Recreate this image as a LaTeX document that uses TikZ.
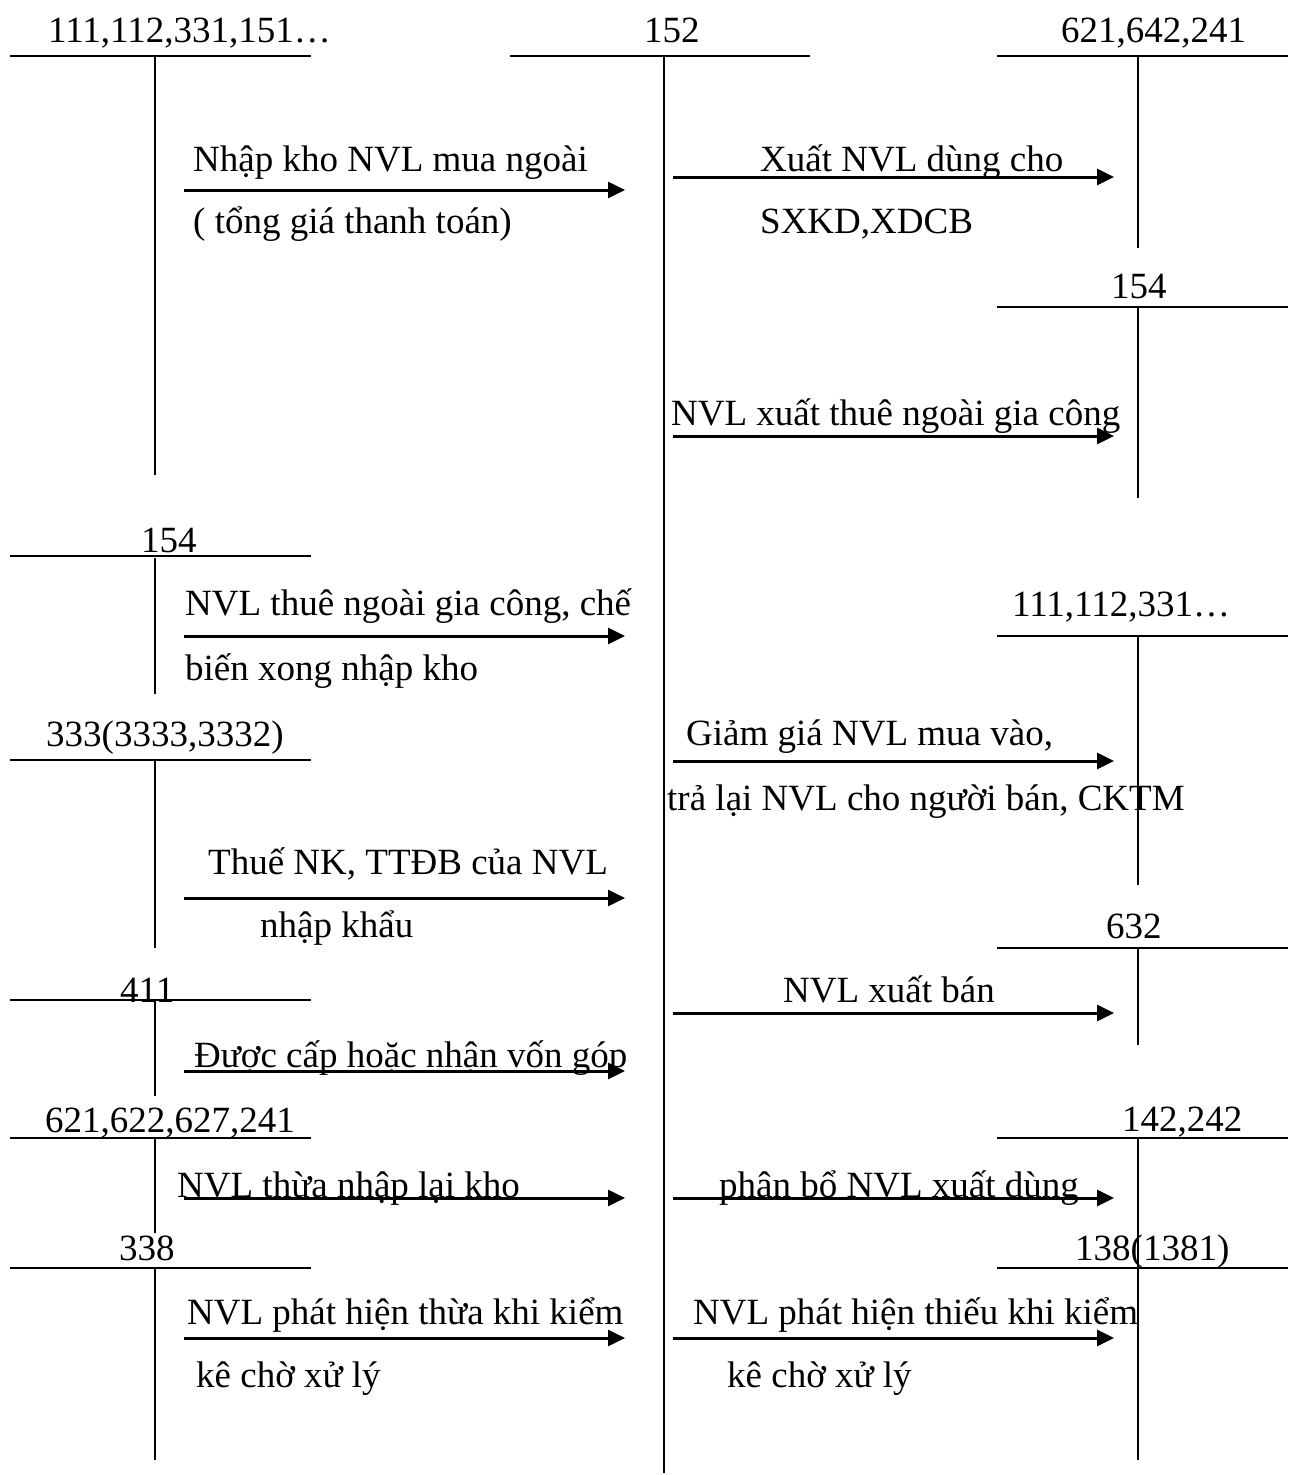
\documentclass[tikz,border=0pt]{standalone}
\usepackage{fontspec}
\setmainfont{Liberation Serif}
\usetikzlibrary{arrows.meta}
\newcommand\tnrsize{\fontsize{37}{44}\selectfont}
\tikzset{
  acct/.style={line width=2pt},
  flow/.style={line width=3pt,-{Triangle[length=17pt,width=16pt]}},
  lbl/.style={anchor=base west,inner sep=0pt,font=\tnrsize},
}
\begin{document}
\begin{tikzpicture}[x=1pt,y=-1pt]
\fill[white] (0,0) rectangle (1288,1475);
\useasboundingbox (0,0) rectangle (1288,1475);

% ---------- left accounts ----------
\coordinate (A1l) at (10,56);   \coordinate (A1r) at (311,56);
\coordinate (A1t) at (155,56);  \coordinate (A1b) at (155,475);
\node[lbl] (A1n) at (48,42) {111,112,331,151…};
\draw[acct] (A1l) -- (A1r); \draw[acct] (A1t) -- (A1b);

\coordinate (A2l) at (10,556);  \coordinate (A2r) at (311,556);
\coordinate (A2t) at (155,558); \coordinate (A2b) at (155,694);
\node[lbl] (A2n) at (141,552) {154};
\draw[acct] (A2l) -- (A2r); \draw[acct] (A2t) -- (A2b);

\coordinate (A3l) at (10,760);  \coordinate (A3r) at (311,760);
\coordinate (A3t) at (155,760); \coordinate (A3b) at (155,948);
\node[lbl] (A3n) at (46,746) {333(3333,3332)};
\draw[acct] (A3l) -- (A3r); \draw[acct] (A3t) -- (A3b);

\coordinate (A4l) at (10,1000);  \coordinate (A4r) at (311,1000);
\coordinate (A4t) at (155,1000); \coordinate (A4b) at (155,1096);
\node[lbl] (A4n) at (120,1002) {411};
\draw[acct] (A4l) -- (A4r); \draw[acct] (A4t) -- (A4b);

\coordinate (A5l) at (10,1138);  \coordinate (A5r) at (311,1138);
\coordinate (A5t) at (155,1138); \coordinate (A5b) at (155,1233);
\node[lbl] (A5n) at (45,1132) {621,622,627,241};
\draw[acct] (A5l) -- (A5r); \draw[acct] (A5t) -- (A5b);

\coordinate (A6l) at (10,1268);  \coordinate (A6r) at (311,1268);
\coordinate (A6t) at (155,1268); \coordinate (A6b) at (155,1460);
\node[lbl] (A6n) at (119,1260) {338};
\draw[acct] (A6l) -- (A6r); \draw[acct] (A6t) -- (A6b);

% ---------- centre account 152 ----------
\coordinate (Cl) at (510,56);  \coordinate (Cr) at (810,56);
\coordinate (Ct) at (664,56);  \coordinate (Cb) at (664,1473);
\node[lbl] (Cn) at (644,42) {152};
\draw[acct] (Cl) -- (Cr); \draw[acct] (Ct) -- (Cb);

% ---------- right accounts ----------
\coordinate (B1l) at (997,56);   \coordinate (B1r) at (1288,56);
\coordinate (B1t) at (1138,56);  \coordinate (B1b) at (1138,248);
\node[lbl] (B1n) at (1061,42) {621,642,241};
\draw[acct] (B1l) -- (B1r); \draw[acct] (B1t) -- (B1b);

\coordinate (B2l) at (997,307);  \coordinate (B2r) at (1288,307);
\coordinate (B2t) at (1138,307); \coordinate (B2b) at (1138,498);
\node[lbl] (B2n) at (1111,298) {154};
\draw[acct] (B2l) -- (B2r); \draw[acct] (B2t) -- (B2b);

\coordinate (B3l) at (997,636);  \coordinate (B3r) at (1288,636);
\coordinate (B3t) at (1138,636); \coordinate (B3b) at (1138,885);
\node[lbl] (B3n) at (1012,616) {111,112,331…};
\draw[acct] (B3l) -- (B3r); \draw[acct] (B3t) -- (B3b);

\coordinate (B4l) at (997,948);  \coordinate (B4r) at (1288,948);
\coordinate (B4t) at (1138,948); \coordinate (B4b) at (1138,1045);
\node[lbl] (B4n) at (1106,938) {632};
\draw[acct] (B4l) -- (B4r); \draw[acct] (B4t) -- (B4b);

\coordinate (B5l) at (997,1138);  \coordinate (B5r) at (1288,1138);
\coordinate (B5t) at (1138,1138); \coordinate (B5b) at (1138,1460);
\node[lbl] (B5n) at (1122,1131) {142,242};
\draw[acct] (B5l) -- (B5r); \draw[acct] (B5t) -- (B5b);

\coordinate (B6l) at (997,1268);  \coordinate (B6r) at (1288,1268);
\node[lbl] (B6n) at (1075,1260) {138(1381)};
\draw[acct] (B6l) -- (B6r);

% ---------- left arrows ----------
\coordinate (L1s) at (184,190);  \coordinate (L1e) at (625,190);
\coordinate (L2s) at (184,636);  \coordinate (L2e) at (625,636);
\coordinate (L3s) at (184,898);  \coordinate (L3e) at (625,898);
\coordinate (L4s) at (184,1071); \coordinate (L4e) at (625,1071);
\coordinate (L5s) at (184,1198); \coordinate (L5e) at (625,1198);
\coordinate (L6s) at (184,1338); \coordinate (L6e) at (625,1338);
\foreach \i in {1,...,6} \draw[flow] (L\i s) -- (L\i e);

% ---------- right arrows ----------
\coordinate (R1s) at (673,177);  \coordinate (R1e) at (1114,177);
\coordinate (R2s) at (673,436);  \coordinate (R2e) at (1114,436);
\coordinate (R3s) at (673,761);  \coordinate (R3e) at (1114,761);
\coordinate (R4s) at (673,1013); \coordinate (R4e) at (1114,1013);
\coordinate (R5s) at (673,1198); \coordinate (R5e) at (1114,1198);
\coordinate (R6s) at (673,1338); \coordinate (R6e) at (1114,1338);
\foreach \i in {1,...,6} \draw[flow] (R\i s) -- (R\i e);

% ---------- arrow texts ----------
\node[lbl] (t1a) at (193,171) {Nhập kho NVL mua ngoài};
\node[lbl] (t1b) at (193,233) {( tổng giá thanh toán)};
\node[lbl] (t2a) at (760,171) {Xuất NVL dùng cho};
\node[lbl] (t2b) at (760,233) {SXKD,XDCB};
\node[lbl] (t3)  at (671,425) {NVL xuất thuê ngoài gia công};
\node[lbl] (t4a) at (185,615) {NVL thuê ngoài gia công, chế};
\node[lbl] (t4b) at (185,680) {biến xong nhập kho};
\node[lbl] (t5a) at (686,745) {Giảm giá NVL mua vào,};
\node[lbl] (t5b) at (667,810) {trả lại NVL cho người bán, CKTM};
\node[lbl] (t6a) at (208,874) {Thuế NK, TTĐB của NVL};
\node[lbl] (t6b) at (260,937) {nhập khẩu};
\node[lbl] (t7)  at (783,1002) {NVL xuất bán};
\node[lbl] (t8)  at (194,1067) {Được cấp hoặc nhận vốn góp};
\node[lbl] (t9)  at (177,1197) {NVL thừa nhập lại kho};
\node[lbl] (t10) at (719,1197) {phân bổ NVL xuất dùng};
\node[lbl] (t11a) at (187,1324) {NVL phát hiện thừa khi kiểm};
\node[lbl] (t11b) at (196,1387) {kê chờ xử lý};
\node[lbl] (t12a) at (693,1324) {NVL phát hiện thiếu khi kiểm};
\node[lbl] (t12b) at (727,1387) {kê chờ xử lý};
\end{tikzpicture}
\end{document}
